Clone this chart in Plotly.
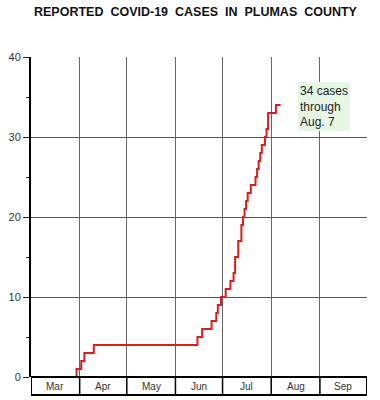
import plotly.graph_objects as go
import pandas as pd

# Cumulative reported cases (step changes)
dates = ["2020-03-30", "2020-03-30", "2020-04-02", "2020-04-04", "2020-04-10",
         "2020-06-15", "2020-06-18", "2020-06-24", "2020-06-27", "2020-06-28",
         "2020-06-30", "2020-07-03", "2020-07-06", "2020-07-08", "2020-07-09",
         "2020-07-11", "2020-07-13", "2020-07-14", "2020-07-15", "2020-07-16",
         "2020-07-17", "2020-07-19", "2020-07-22", "2020-07-23", "2020-07-24",
         "2020-07-25", "2020-07-26", "2020-07-28", "2020-07-29", "2020-07-30",
         "2020-08-04", "2020-08-07"]
cases = [0, 1, 2, 3, 4,
         5, 6, 7, 8, 9,
         10, 11, 12, 13, 15,
         17, 19, 20, 21, 22,
         23, 24, 25, 26, 27,
         28, 29, 30, 31, 33,
         34, 34]

month_starts = ["2020-03-01", "2020-04-01", "2020-05-01", "2020-06-01",
                "2020-07-01", "2020-08-01", "2020-09-01", "2020-10-01"]
month_labels = ["Mar", "Apr", "May", "Jun", "Jul", "Aug", "Sep"]

y_ticks = [0, 10, 20, 30, 40]
title_text = "REPORTED&nbsp; COVID-19&nbsp; CASES&nbsp; IN&nbsp; PLUMAS&nbsp; COUNTY"
note_text = "34 cases<br>through<br>Aug. 7"

fig = go.Figure()
fig.add_trace(go.Scatter(x=dates, y=cases, mode="lines",
                         line=dict(color="#dd1c1c", width=2, shape="hv"),
                         hoverinfo="skip", showlegend=False))

W, H = 380, 400
ml, mr, mt, mb = 31, 13, 57, 23
plot_h = H - mt - mb
band = 18 / plot_h

fig.update_layout(
    width=W, height=H,
    margin=dict(l=ml, r=mr, t=mt, b=mb, autoexpand=False),
    paper_bgcolor="white", plot_bgcolor="white",
    font=dict(family="Liberation Sans, Arial, sans-serif", color="#222"),
    xaxis=dict(type="date", range=[month_starts[0], month_starts[-1]],
               tickvals=month_starts, showticklabels=False, ticks="",
               showgrid=True, gridcolor="#666", gridwidth=1, automargin=False,
               zeroline=False, showline=False, fixedrange=True),
    yaxis=dict(range=[0, 40], tickvals=y_ticks, ticks="outside", ticklen=6,
               tickwidth=1, tickcolor="#222", automargin=False,
               minor=dict(dtick=5, ticks="outside", ticklen=3, tickcolor="#222", showgrid=False),
               showgrid=True, gridcolor="#555", gridwidth=1,
               zeroline=False, showline=True, linecolor="black", linewidth=2,
               tickfont=dict(size=11, color="#333"), fixedrange=True),
    showlegend=False,
)

# Title
fig.add_annotation(text="<b>" + title_text + "</b>", xref="paper", yref="paper",
                   x=0.49, y=1 + 45 / plot_h, showarrow=False,
                   font=dict(size=12.5, color="#111"), xanchor="center", yanchor="middle")

# Month band below the axis
shapes = []
shapes.append(dict(type="rect", xref="x", yref="paper",
                   x0=month_starts[0], x1=month_starts[-1], y0=-band, y1=0,
                   line=dict(color="black", width=2), fillcolor="rgba(0,0,0,0)", layer="above"))
for m in month_starts[1:-1]:
    shapes.append(dict(type="line", xref="x", yref="paper", x0=m, x1=m, y0=-band, y1=0,
                       line=dict(color="black", width=1.5), layer="above"))
fig.update_layout(shapes=shapes)

ms = pd.to_datetime(month_starts)
for i, lab in enumerate(month_labels):
    mid = ms[i] + (ms[i + 1] - ms[i]) / 2
    fig.add_annotation(text=lab, xref="x", yref="paper", x=mid, y=-band / 2,
                       showarrow=False, font=dict(size=10, color="#333"),
                       xanchor="center", yanchor="middle")

# Note box
fig.add_annotation(text=note_text, xref="x", yref="y", x="2020-08-18", y=33.8,
                   showarrow=False, align="left", xanchor="left", yanchor="middle",
                   font=dict(size=12, color="#222"), bgcolor="#e6f7e6",
                   borderpad=2, borderwidth=0)

fig.write_html("out.html", config={"displayModeBar": False, "staticPlot": True},
               post_script="document.body.style.margin='0';")
